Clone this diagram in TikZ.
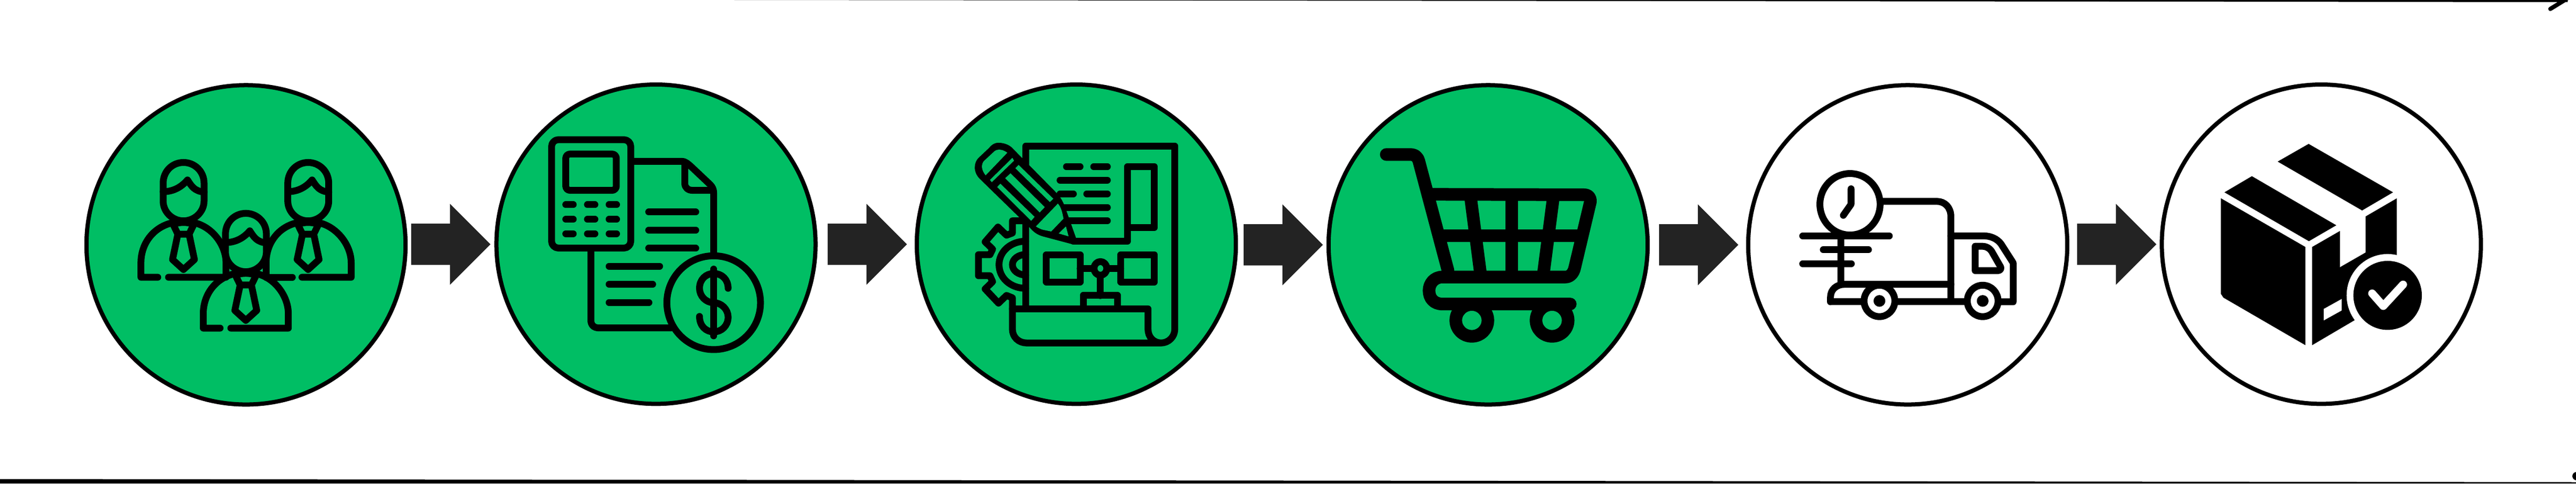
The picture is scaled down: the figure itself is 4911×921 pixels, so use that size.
\documentclass[tikz,border=0pt]{standalone}
\usetikzlibrary{shapes.arrows}
\definecolor{stepgreen}{HTML}{00BE64}
\definecolor{arrowgrey}{HTML}{232323}
\tikzset{
  stage/.style={circle,draw=black,line width=0.08cm,minimum size=6.08cm,inner sep=0pt,outer sep=0pt},
  greenstage/.style={stage,fill=stepgreen},
  whitestage/.style={stage,fill=white},
  blockarrow/.style={single arrow,fill=arrowgrey,draw=none,inner xsep=0pt,inner ysep=0.385cm,outer sep=0pt,anchor=tip,
     minimum height=1.51cm,minimum width=1.52cm,single arrow head extend=0.38cm,single arrow tip angle=90},
  ico/.style={draw=black,line width=0.13cm,line cap=round,line join=round},
  icorc/.style={ico,rounded corners=0.13cm},
  zoomed/.style={x=0.0051020cm,y=-0.0042088cm},
  zoomedb/.style={x=0.0051733cm,y=-0.0042088cm},
}
\newcommand{\persontop}{%
  \draw[ico] (355,520) .. controls (355,465) and (390,426) .. (431,426) .. controls (472,426) and (508,465) .. (508,520) -- (508,600) .. controls (508,650) and (472,690) .. (431,690) .. controls (390,690) and (355,650) .. (355,600) -- cycle;
  \draw[ico] (355,558) .. controls (395,558) and (425,535) .. (446,505) .. controls (462,535) and (472,555) .. (508,560);
  \draw[ico] (396,704) .. controls (420,695) and (442,695) .. (466,704);
  \draw[ico] (394,710) -- (410,750) -- (452,750) -- (468,710);
  \draw[ico] (410,750) -- (390,865) -- (431,910) -- (472,865) -- (452,750);
}
\begin{document}
\begin{tikzpicture}[x=0.01cm,y=-0.01cm]
\useasboundingbox (0,0) rectangle (4911,921);
\fill[white] (0,0) rectangle (4911,921);
% edge strokes
\fill[black] (1400,0) -- (4895,0) -- (4895,4) -- cycle;
\fill[black] (0,912.5) -- (4911,918.5) -- (4911,921) -- (0,921) -- cycle;
\begin{scope}
\clip (0,0) rectangle (4911,921);
\draw[black,line width=0.08cm,line cap=round] (4893,-2) -- (4862,17);
\fill[black] (4912,907) circle [radius=8];
\end{scope}
% stages
\node[greenstage] (c1) at (469,466.4) {};
\node[greenstage] (c2) at (1250.6,465.2) {};
\node[greenstage] (c3) at (2052,465.2) {};
\node[greenstage] (c4) at (2837,466.4) {};
\node[whitestage] (c5) at (3637,466.4) {};
\node[whitestage] (c6) at (4425.5,465.2) {};
% arrows
\node[blockarrow] (a1) at (935,465.4) {};
\node[blockarrow] (a2) at (1729,465.4) {};
\node[blockarrow] (a3) at (2522,466.3) {};
\node[blockarrow] (a4) at (3314,466.3) {};
\node[blockarrow] (a5) at (4111,465.4) {};
% people
\begin{scope}[shift={(130,130)},zoomed]
  \persontop
  \draw[ico] (385,700) .. controls (320,720) and (272,790) .. (272,880) -- (272,945) -- (335,945);
  \draw[ico] (375,945) -- (590,945) -- (590,880) .. controls (590,800) and (540,720) .. (476,700);
  \begin{scope}[shift={(466,0)}]
    \persontop
    \draw[ico] (385,700) .. controls (320,720) and (274,790) .. (274,880) -- (274,945);
    \draw[ico] (274,945) -- (372,945);
    \draw[ico] (408,945) -- (592,945) -- (592,880) .. controls (592,800) and (540,720) .. (476,700);
  \end{scope}
  \begin{scope}[shift={(233,230)}]
    \persontop
    \draw[ico] (385,700) .. controls (320,720) and (272,790) .. (272,880) -- (272,945) -- (335,945);
    \draw[ico] (375,945) -- (590,945) -- (590,880) .. controls (590,800) and (540,720) .. (476,700);
  \end{scope}
\end{scope}
% invoice
\begin{scope}[shift={(920,130)},zoomed]
  \draw[icorc] (258,323) rectangle (554,813);
  \draw[icorc,rounded corners=0.08cm] (311,388) rectangle (500,552);
  \foreach \yy in {617,683,748} \foreach \xx in {311,392,473} \draw[ico] (\xx,\yy) -- ++(28,0);
  \draw[ico] (554,421) -- (745,421) .. controls (760,421) and (770,435) .. (780,445) -- (850,525) .. controls (860,537) and (864,548) .. (864,565) -- (864,835);
  \draw[ico] (405,830) -- (405,1140) .. controls (405,1160) and (415,1174) .. (435,1174) -- (705,1174);
  \draw[ico] (756,430) -- (756,520) .. controls (756,540) and (768,552) .. (785,552) -- (860,552);
  \foreach \yy in {650,732,814} \draw[ico] (621,\yy) -- (797,\yy);
  \draw[ico] (473,895) -- (662,895);
  \draw[ico] (473,977) -- (636,977);
  \draw[ico] (473,1059) -- (622,1059);
  \draw[ico] (864,1060) ellipse [x radius=175,y radius=212];
  \draw[ico] (864,908) -- (864,1210);
  \draw[ico] (918,995) .. controls (918,955) and (895,928) .. (864,928) .. controls (835,928) and (811,955) .. (811,995) .. controls (811,1030) and (835,1060) .. (864,1060) .. controls (893,1060) and (918,1090) .. (918,1125) .. controls (918,1165) and (893,1192) .. (864,1192) .. controls (835,1192) and (811,1165) .. (811,1122);
\end{scope}
% design
\begin{scope}[shift={(1720,130)},zoomed]
  \draw[ico] (462,440) -- (462,352) -- (1019,352) -- (1019,1180) .. controls (1019,1215) and (995,1242) .. (968,1242) .. controls (940,1242) and (919,1215) .. (919,1180) -- (919,1088) -- (412,1088) -- (412,1180) .. controls (412,1215) and (435,1242) .. (465,1242) -- (968,1242);
  \draw[ico] (462,700) -- (462,1088);
  \draw[ico] (842,720) -- (842,445) -- (943,445) -- (943,720) -- (842,720) -- (842,782) -- (640,782);
  \draw[ico] (614,445) -- (665,445);
  \draw[ico] (716,445) -- (767,445);
  \draw[ico] (590,506) -- (767,506);
  \draw[ico] (590,568) -- (640,568);
  \draw[ico] (690,568) -- (767,568);
  \draw[ico] (600,629) -- (767,629);
  \draw[ico] (610,690) -- (767,690);
  % pencil: black silhouette with green openings
  \fill[black] (360,337) .. controls (385,337) and (405,350) .. (415,365) -- (578,565) .. controls (590,580) and (600,600) .. (608,625) -- (650,768) -- (640,797) -- (525,760) .. controls (505,753) and (490,740) .. (475,718) -- (290,500) .. controls (265,470) and (265,425) .. (290,400) -- (325,360) .. controls (335,345) and (345,337) .. (360,337) -- cycle;
  \begin{scope}[fill=stepgreen]
    \fill (393,382) .. controls (375,365) and (355,365) .. (345,375) -- (305,420) .. controls (295,435) and (295,460) .. (312,484) -- cycle;
    \fill (412,405) -- (418,418) -- (335,515) -- (328,505) -- cycle;
    \fill (435,437) -- (565,590) -- (552,605) -- (423,452) -- cycle;
    \fill (405,475) -- (533,628) -- (514,652) -- (385,497) -- cycle;
    \fill (367,522) -- (495,672) -- (482,690) -- (355,537) -- cycle;
    \fill (582,612) .. controls (595,630) and (598,650) .. (603,680) -- (557,738) -- (525,730) .. controls (515,726) and (505,720) .. (500,715) -- cycle;
    \fill (612,715) -- (622,760) -- (585,747) -- cycle;
  \end{scope}
  % gear
  \draw[ico] (462,690) -- (412,690) -- (412,745) -- (390,755) -- (358,718) -- (310,785) -- (338,818) -- (328,843) -- (285,843) -- (285,938) -- (328,938) -- (338,965) -- (310,998) -- (360,1062) -- (390,1027) -- (412,1038) -- (412,1088);
  \draw[ico] (462,782) .. controls (405,782) and (362,830) .. (362,888) .. controls (362,948) and (405,995) .. (462,995);
  \draw[ico] (462,842) .. controls (435,842) and (412,862) .. (412,888) .. controls (412,915) and (435,935) .. (462,935);
  % flow chart
  \draw[ico] (539,843) rectangle (665,966);
  \draw[ico] (817,843) rectangle (943,966);
  \draw[ico] (741,905) ellipse [x radius=24,y radius=31];
  \draw[ico] (665,905) -- (705,905);
  \draw[ico] (778,905) -- (817,905);
  \draw[ico] (741,950) -- (741,1028);
  \draw[ico] (677,1088) -- (677,1026) -- (804,1026) -- (804,1088);
\end{scope}
% cart
\begin{scope}[shift={(2500,130)},zoomed]
  \tikzset{cart/.style={draw=black,line width=0.24cm,line cap=round,line join=round}}
  \draw[cart] (280,390) -- (368,390) .. controls (388,390) and (397,400) .. (402,420) -- (511,915);
  \draw[cart] (450,570) -- (1020,572) .. controls (1038,572) and (1046,590) .. (1043,605) -- (985,900) .. controls (980,930) and (965,944) .. (950,944) -- (490,944) .. controls (458,944) and (440,975) .. (440,1005) .. controls (440,1040) and (458,1066) .. (490,1066) -- (968,1066);
  \draw[cart,line cap=butt] (470,758) -- (1015,758);
  \draw[cart,line cap=butt] (750,590) -- (750,925);
  \draw[cart,line cap=butt] (596,590) -- (632,925);
  \draw[cart,line cap=butt] (904,590) -- (868,925);
  \draw[cart] (600,1140) ellipse [x radius=60,y radius=72];
  \draw[cart] (900,1140) ellipse [x radius=60,y radius=72];
\end{scope}
% truck
\begin{scope}[shift={(3300,130)},zoomed]
  \draw[ico] (445,615) ellipse [x radius=112.5,y radius=139];
  \draw[ico] (449,545) -- (449,615) -- (420,665);
  \draw[ico] (565,602) -- (770,602) .. controls (800,602) and (822,630) .. (822,670) -- (822,1055);
  \draw[ico] (268,758) -- (592,758);
  \draw[ico] (345,821) -- (514,821);
  \draw[ico] (268,884) -- (450,884);
  \draw[ico] (410,768) -- (410,975);
  \draw[ico] (372,1056) -- (372,1035) .. controls (372,1000) and (395,977) .. (425,977) -- (822,977);
  \draw[ico] (372,1056) -- (490,1056);
  \draw[ico] (620,1056) -- (880,1056);
  \draw[ico] (1010,1056) -- (1055,1056) -- (1055,880) -- (1010,795) .. controls (995,770) and (970,758) .. (945,758) -- (822,758);
  \draw[ico] (913,805) -- (940,805) .. controls (955,805) and (970,815) .. (978,835) -- (1008,898) .. controls (1012,908) and (1005,915) .. (998,915) -- (913,915) -- cycle;
  \foreach \wx in {555,941} {
    \draw[ico] (\wx,1052) ellipse [x radius=57.5,y radius=71];
    \fill[black] (\wx,1052) ellipse [x radius=22,y radius=26.5];
  }
\end{scope}
% parcel
\begin{scope}[shift={(4100,130)},zoomedb]
  \fill[black] (582,342) -- (893,561) -- (779,643) -- (468,422) -- cycle;
  \fill[black] (373,488) -- (684,710) -- (583,782) -- (272,561) -- cycle;
  \fill[black] (259,588) -- (570,808) -- (570,1252) -- (268,1037) -- (259,1020) -- cycle;
  \fill[black] (595,808) -- (697,736) -- (697,900) -- (792,833) -- (792,670) -- (907,588) -- (907,900) -- (753,1138) -- (595,1252) -- cycle;
  \fill[white] (638,1088) -- (704,1043) -- (704,1095) -- (638,1140) -- cycle;
  \fill[white] (873,1027) ellipse [x radius=151,y radius=187];
  \fill[black] (873,1027) ellipse [x radius=126,y radius=156];
  \draw[white,line width=0.15cm,line cap=round,line join=round] (816,1018) -- (857,1075) -- (930,978);
\end{scope}
\end{tikzpicture}
\end{document}
